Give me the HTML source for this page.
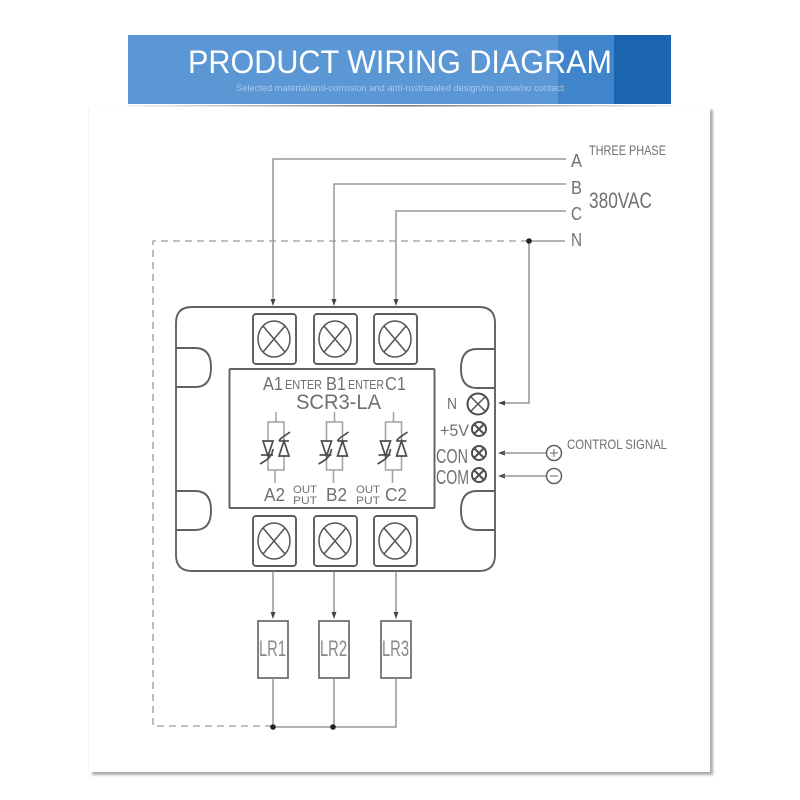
<!DOCTYPE html>
<html>
<head>
<meta charset="utf-8">
<title>Product Wiring Diagram</title>
<style>
html,body{margin:0;padding:0;background:#fff;width:800px;height:800px;overflow:hidden}
svg{display:block}
text{font-family:"Liberation Sans",sans-serif}
.l{fill:none;stroke:#858585;stroke-width:1.3}
.b{fill:none;stroke:#606060;stroke-width:1.9}
.c{fill:none;stroke:#555;stroke-width:1.5}
.m{fill:none;stroke:#4d4d4d;stroke-width:2}
.t{fill:#707070}
.a{fill:#444}
.s{fill:none;stroke:#4d4d4d;stroke-width:1.7}
.w{fill:none;stroke:#a0a0a0;stroke-width:1.5}
</style>
</head>
<body>
<svg width="800" height="800" viewBox="0 0 800 800" xmlns="http://www.w3.org/2000/svg">
<defs>
<filter id="sh" x="-5%" y="-5%" width="110%" height="110%"><feGaussianBlur stdDeviation="1.3"/></filter>
<filter id="soft" x="-5%" y="-5%" width="110%" height="110%"><feGaussianBlur stdDeviation="0.3"/></filter>
<linearGradient id="ul" x1="0" x2="1" y1="0" y2="0">
<stop offset="0" stop-color="#eee"/><stop offset=".5" stop-color="#777"/><stop offset="1" stop-color="#eee"/>
</linearGradient>
<g id="term">
<rect x="-21" y="-25" width="43" height="50" rx="3" fill="#fff" stroke="#5c5c5c" stroke-width="1.9"/>
<ellipse cx="0" cy="0" rx="16" ry="18" class="c"/>
<path d="M-11-13 11 13M11-13-11 13" class="c"/>
</g>
<g id="mini">
<circle r="7" class="m"/>
<path d="M-5-5 5 5M5-5-5 5" class="m"/>
</g>
<g id="triac">
<path d="M0-19V-9M-1 39V52" class="w"/>
<rect x="-8" y="-9" width="16" height="48" class="w"/>
<path d="M-13 10H-3L-8 25Z" fill="#fff" stroke="#4d4d4d" stroke-width="1.700"/>
<path d="M3 25H13L8 10Z" fill="#fff" stroke="#4d4d4d" stroke-width="1.700"/>
<path d="M3 10H13" class="s"/>
<path d="M-15 24H-3" class="s"/>
<path d="M-3 18C-4 26-9 29-16 33" class="s"/>
<path d="M3 10C5 6 9 5 14 1" class="s"/>
</g>
</defs>

<!-- paper -->
<rect x="92" y="110" width="621" height="665" fill="#ababab" filter="url(#sh)"/>
<rect x="88" y="108" width="622" height="664" fill="#fff"/>
<rect x="88" y="108" width="1" height="664" fill="#f2f2f2"/>

<!-- banner -->
<rect x="128" y="35" width="543" height="69" fill="#5b97d5"/>
<rect x="558" y="35" width="56" height="69" fill="#4085cb"/>
<rect x="614" y="35" width="57" height="69" fill="#1a64b0"/>
<rect x="128" y="105" width="543" height="1.500" fill="url(#ul)"/>
<text x="188" y="73" font-size="32.500" fill="#fff" textLength="424" lengthAdjust="spacingAndGlyphs">PRODUCT WIRING DIAGRAM</text>
<text x="236" y="91" font-size="9" fill="#a9c8ea" textLength="328" lengthAdjust="spacingAndGlyphs">Selected material/anti-corrosion and anti-rust/sealed design/no noise/no contact</text>

<g filter="url(#soft)">
<!-- wires -->
<path d="M273 300V159H566" class="l"/>
<path d="M334 300V184H566" class="l"/>
<path d="M396 300V211H566" class="l"/>
<path d="M529 241H565M529 241V403H503" class="l"/>
<path d="M528 241H153V726H272" fill="none" stroke="#999" stroke-width="1.300" stroke-dasharray="7 5"/>
<circle cx="529" cy="241" r="2.800" fill="#222"/>

<path d="M273 306l-2.500-7h5zM334 306l-2.500-7h5zM396 306l-2.500-7h5z" class="a"/>
<path d="M498 403l7-2.500v5zM498 453l7-2.500v5zM498 476l7-2.500v5z" class="a"/>
<path d="M503 453H546M503 476H546" class="l"/>

<!-- body -->
<path d="M192 307H479Q495 307 495 323V555Q495 571 479 571H192Q176 571 176 555V323Q176 307 192 307Z" fill="#fff" stroke="#606060" stroke-width="1.900"/>
<path d="M176 348H195Q211 348 211 367V368Q211 387 195 387H176" class="b"/>
<path d="M176 491H195Q211 491 211 510V511Q211 530 195 530H176" class="b"/>
<path d="M495 349H477Q461 349 461 368V369Q461 388 477 388H495" class="b"/>
<path d="M495 491H477Q461 491 461 510V511Q461 530 477 530H495" class="b"/>
<rect x="229.500" y="369" width="205" height="139" rx="1" fill="#fff" stroke="#606060" stroke-width="1.900"/>

<use href="#term" x="274" y="339"/>
<use href="#term" x="335" y="339"/>
<use href="#term" x="395" y="339"/>
<use href="#term" x="274" y="541"/>
<use href="#term" x="335" y="541"/>
<use href="#term" x="395" y="541"/>

<!-- inner labels -->
<text x="263" y="390" font-size="18" class="t" textLength="20" lengthAdjust="spacingAndGlyphs">A1</text>
<text x="285" y="389" font-size="12.500" class="t" textLength="37" lengthAdjust="spacingAndGlyphs">ENTER</text>
<text x="326" y="390" font-size="18" class="t" textLength="20" lengthAdjust="spacingAndGlyphs">B1</text>
<text x="348" y="389" font-size="12.500" class="t" textLength="36" lengthAdjust="spacingAndGlyphs">ENTER</text>
<text x="385" y="390" font-size="18" class="t" textLength="21" lengthAdjust="spacingAndGlyphs">C1</text>
<text x="296" y="409" font-size="21" class="t" textLength="85" lengthAdjust="spacingAndGlyphs">SCR3-LA</text>

<use href="#triac" x="276" y="431"/>
<use href="#triac" x="334.500" y="431"/>
<use href="#triac" x="393.500" y="431"/>

<text x="264" y="501" font-size="18" class="t" textLength="21" lengthAdjust="spacingAndGlyphs">A2</text>
<text x="326" y="501" font-size="18" class="t" textLength="21" lengthAdjust="spacingAndGlyphs">B2</text>
<text x="385" y="501" font-size="18" class="t" textLength="22" lengthAdjust="spacingAndGlyphs">C2</text>
<text x="293" y="493" font-size="11" class="t" textLength="24" lengthAdjust="spacingAndGlyphs">OUT</text>
<text x="293" y="504" font-size="11" class="t" textLength="24" lengthAdjust="spacingAndGlyphs">PUT</text>
<text x="356" y="493" font-size="11" class="t" textLength="24" lengthAdjust="spacingAndGlyphs">OUT</text>
<text x="356" y="504" font-size="11" class="t" textLength="24" lengthAdjust="spacingAndGlyphs">PUT</text>

<!-- control terminals -->
<text x="447" y="409" font-size="16" class="t" textLength="10" lengthAdjust="spacingAndGlyphs">N</text>
<circle cx="478" cy="404" r="10.500" class="m"/>
<path d="M471 397 485 411M485 397 471 411" class="c"/>
<text x="440" y="436" font-size="17" class="t" textLength="29" lengthAdjust="spacingAndGlyphs">+5V</text>
<use href="#mini" x="479" y="429"/>
<text x="436" y="463" font-size="20" class="t" textLength="32" lengthAdjust="spacingAndGlyphs">CON</text>
<use href="#mini" x="479" y="453"/>
<text x="436" y="484" font-size="20" class="t" textLength="33" lengthAdjust="spacingAndGlyphs">COM</text>
<use href="#mini" x="479" y="475"/>

<circle cx="554" cy="453" r="7.500" fill="#fff" stroke="#606060" stroke-width="1.500"/>
<path d="M550 453H558M554 449V457" class="l"/>
<circle cx="554" cy="476" r="7.500" fill="#fff" stroke="#606060" stroke-width="1.500"/>
<path d="M550 476H558" class="l"/>
<text x="567" y="449" font-size="14" class="t" textLength="100" lengthAdjust="spacingAndGlyphs">CONTROL SIGNAL</text>

<!-- phase labels -->
<text x="571" y="167" font-size="18" class="t" textLength="11" lengthAdjust="spacingAndGlyphs">A</text>
<text x="571" y="194" font-size="18" class="t" textLength="11" lengthAdjust="spacingAndGlyphs">B</text>
<text x="571" y="220" font-size="18" class="t" textLength="11" lengthAdjust="spacingAndGlyphs">C</text>
<text x="571" y="246" font-size="18" class="t" textLength="11" lengthAdjust="spacingAndGlyphs">N</text>
<text x="589" y="155" font-size="14" class="t" textLength="77" lengthAdjust="spacingAndGlyphs">THREE PHASE</text>
<text x="589" y="208" font-size="22" class="t" textLength="63" lengthAdjust="spacingAndGlyphs">380VAC</text>

<!-- loads -->
<path d="M273 571V613M334 571V613M396 571V613" class="l"/>
<path d="M273 619l-2.500-7h5zM334 619l-2.500-7h5zM396 619l-2.500-7h5z" class="a"/>
<rect x="258" y="621" width="30" height="57" fill="#fff" stroke="#606060" stroke-width="1.600"/>
<rect x="319" y="621" width="30" height="57" fill="#fff" stroke="#606060" stroke-width="1.600"/>
<rect x="381" y="621" width="30" height="57" fill="#fff" stroke="#606060" stroke-width="1.600"/>
<text x="259" y="656" font-size="22" fill="#888" textLength="27" lengthAdjust="spacingAndGlyphs">LR1</text>
<text x="320" y="656" font-size="22" fill="#888" textLength="27" lengthAdjust="spacingAndGlyphs">LR2</text>
<text x="382" y="656" font-size="22" fill="#888" textLength="27" lengthAdjust="spacingAndGlyphs">LR3</text>
<path d="M273 678V727M334 678V727M396 678V727H273" class="l"/>
<circle cx="273" cy="727" r="2.800" fill="#222"/>
<circle cx="333" cy="727" r="2.800" fill="#222"/>
</g>
</svg>
</body>
</html>
